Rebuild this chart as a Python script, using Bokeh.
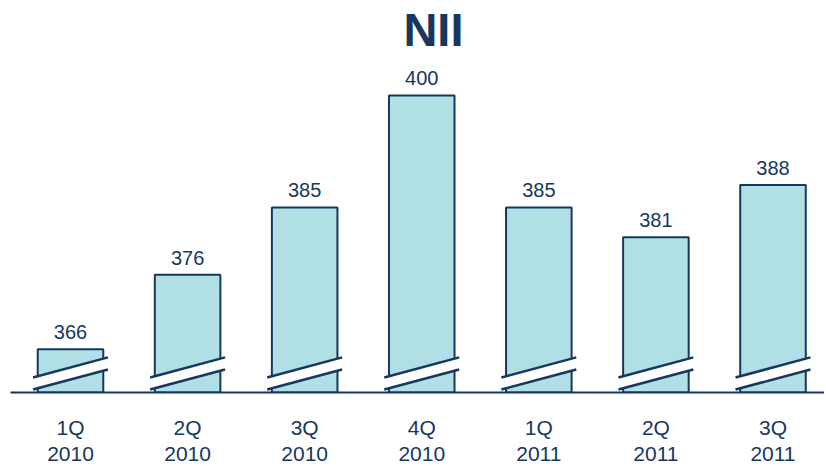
from bokeh.plotting import figure
from bokeh.models import Range1d, FixedTicker, Label
from bokeh.core.properties import value
from bokeh.embed import file_html
from bokeh.resources import INLINE

quarters = ["1Q", "2Q", "3Q", "4Q", "1Q", "2Q", "3Q"]
years = ["2010", "2010", "2010", "2010", "2011", "2011", "2011"]
nii = [366, 376, 385, 400, 385, 381, 388]

NAVY = "#17375e"
FILL = "#b0dfe5"
FONT = "Liberation Sans"

idx = list(range(len(nii)))
y0 = 360.22

p = figure(width=824, frame_height=392, output_backend="svg", toolbar_location=None,
           x_range=Range1d(-0.5125, 6.44), y_range=Range1d(y0, 412.72),
           min_border_left=10, min_border_right=0, min_border_top=0, min_border_bottom=0)
p.outline_line_color = None
p.xgrid.visible = False
p.ygrid.visible = False
p.yaxis.visible = False

p.vbar(x=idx, top=nii, bottom=y0, width=0.56, fill_color=FILL,
       line_color=NAVY, line_width=2)

# axis break marks
hw = 0.32
for i in idx:
    xs = [i - hw, i + hw, i + hw, i - hw]
    ys = [y0 + 0.40, y0 + 3.08, y0 + 4.70, y0 + 2.01]
    p.patch(xs, ys, fill_color="white", line_color=None)
    p.line([i - hw, i + hw], [y0 + 0.40, y0 + 3.08], line_color=NAVY, line_width=2.5)
    p.line([i - hw, i + hw], [y0 + 2.01, y0 + 4.70], line_color=NAVY, line_width=2.5)

p.text(x=idx, y=nii, text=[str(v) for v in nii], y_offset=-10,
       text_align="center", text_baseline="bottom",
       text_font=value(FONT), text_font_size="20px", text_color=NAVY)

p.add_layout(Label(x=3.1, y=405.35, text="NII", text_align="center",
                   text_baseline="bottom", text_font=FONT, text_font_size="47px",
                   text_font_style="bold", text_color=NAVY))

ax = p.xaxis[0]
ax.ticker = FixedTicker(ticks=idx)
ax.major_label_overrides = {i: f"{q}\n{y}" for i, q, y in zip(idx, quarters, years)}
ax.major_tick_line_color = None
ax.minor_tick_line_color = None
ax.axis_line_color = NAVY
ax.axis_line_width = 2
ax.major_label_standoff = 17
ax.major_label_text_font = FONT
ax.major_label_text_font_size = "21px"
ax.major_label_text_line_height = 1.14
ax.major_label_text_color = NAVY

open("out.html", "w").write(file_html(p, INLINE))
